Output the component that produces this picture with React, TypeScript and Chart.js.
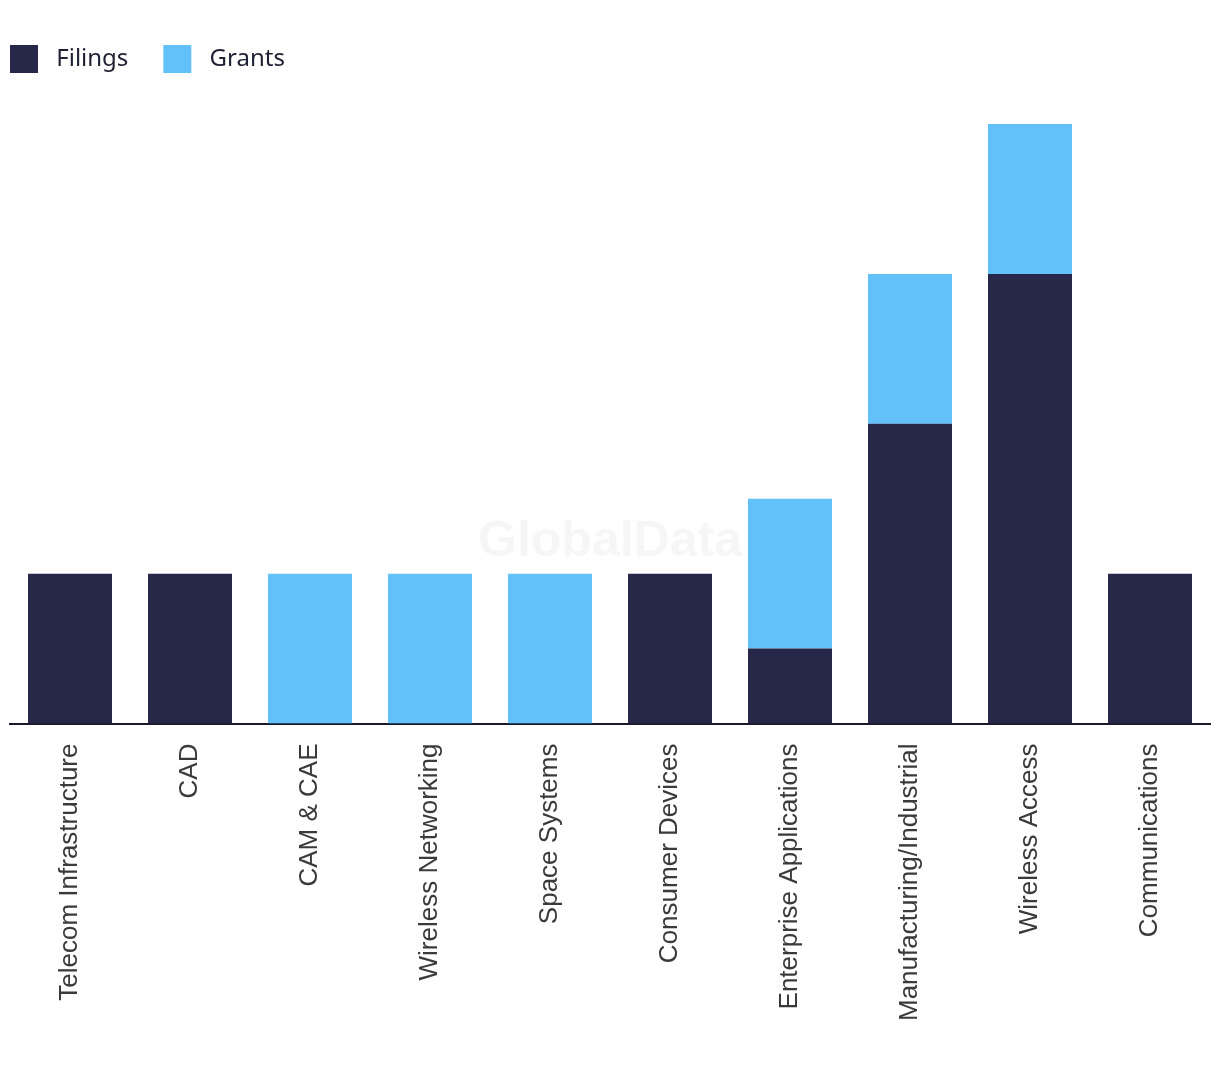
import React, { useEffect, useRef } from "react";
import { Chart, registerables } from "chart.js";

Chart.register(...registerables);

const categories = [
  "Telecom Infrastructure",
  "CAD",
  "CAM & CAE",
  "Wireless Networking",
  "Space Systems",
  "Consumer Devices",
  "Enterprise Applications",
  "Manufacturing/Industrial",
  "Wireless Access",
  "Communications",
];
const filings = [2, 2, 0, 0, 0, 2, 1, 4, 6, 2];
const grants = [0, 0, 2, 2, 2, 0, 2, 2, 2, 0];

const DARK = "#272849";
const LIGHT = "#62C1F8";

const legendSpacer = {
  id: "legendSpacer",
  beforeInit(chart: any) {
    const orig = chart.legend.fit;
    chart.legend.fit = function () {
      orig.bind(chart.legend)();
      this.height += 41;
    };
  },
  afterLayout(chart: any) {
    chart.legend.left = 0;
  },
};

const watermark = {
  id: "watermark",
  beforeDatasetsDraw(chart: any) {
    const { ctx, chartArea } = chart;
    ctx.save();
    ctx.font = "bold 50px 'Liberation Sans', Arial, sans-serif";
    ctx.fillStyle = "rgba(0,0,0,0.035)";
    ctx.textAlign = "center";
    ctx.textBaseline = "middle";
    ctx.fillText("GlobalData", (chartArea.left + chartArea.right) / 2, 542);
    ctx.restore();
  },
};

export default function App() {
  const ref = useRef<HTMLCanvasElement>(null);
  useEffect(() => {
    document.body.style.margin = "0";
    const chart = new Chart(ref.current!, {
      type: "bar",
      data: {
        labels: categories,
        datasets: [
          { label: "Filings", data: filings, backgroundColor: DARK, categoryPercentage: 0.7, barPercentage: 1 },
          { label: "Grants", data: grants, backgroundColor: LIGHT, categoryPercentage: 0.7, barPercentage: 1 },
        ],
      },
      options: {
        animation: false,
        responsive: false,
        maintainAspectRatio: false,
        layout: { padding: { top: 35, left: 10, right: 10, bottom: 51 } },
        plugins: {
          legend: {
            position: "top",
            align: "start",
            labels: {
              boxWidth: 28,
              boxHeight: 28,
              padding: 10,
              color: "#1f2033",
              font: { size: 24, family: "'Noto Sans', sans-serif" },
              generateLabels: (c: any) =>
                c.data.datasets.map((d: any, i: number) => ({
                  text: " " + d.label + "    ",
                  fillStyle: d.backgroundColor,
                  strokeStyle: d.backgroundColor,
                  lineWidth: 0,
                  datasetIndex: i,
                  fontColor: "#1f2033",
                })),
            },
          },
          tooltip: { enabled: false },
        },
        scales: {
          x: {
            stacked: true,
            grid: { display: false },
            border: { display: true, color: "#1a1a2a", width: 2 },
            ticks: {
              maxRotation: 90,
              minRotation: 90,
              color: "#3a3a3a",
              padding: 12,
              font: { size: 26, family: "'Liberation Sans', Arial, sans-serif" },
            },
          },
          y: {
            stacked: true,
            display: false,
            min: 0,
            max: 8,
          },
        },
      },
      plugins: [legendSpacer, watermark],
    });
    return () => chart.destroy();
  }, []);
  return (
    <div style={{ width: 1220, height: 1084 }}>
      <canvas ref={ref} width={1220} height={1084} />
    </div>
  );
}
